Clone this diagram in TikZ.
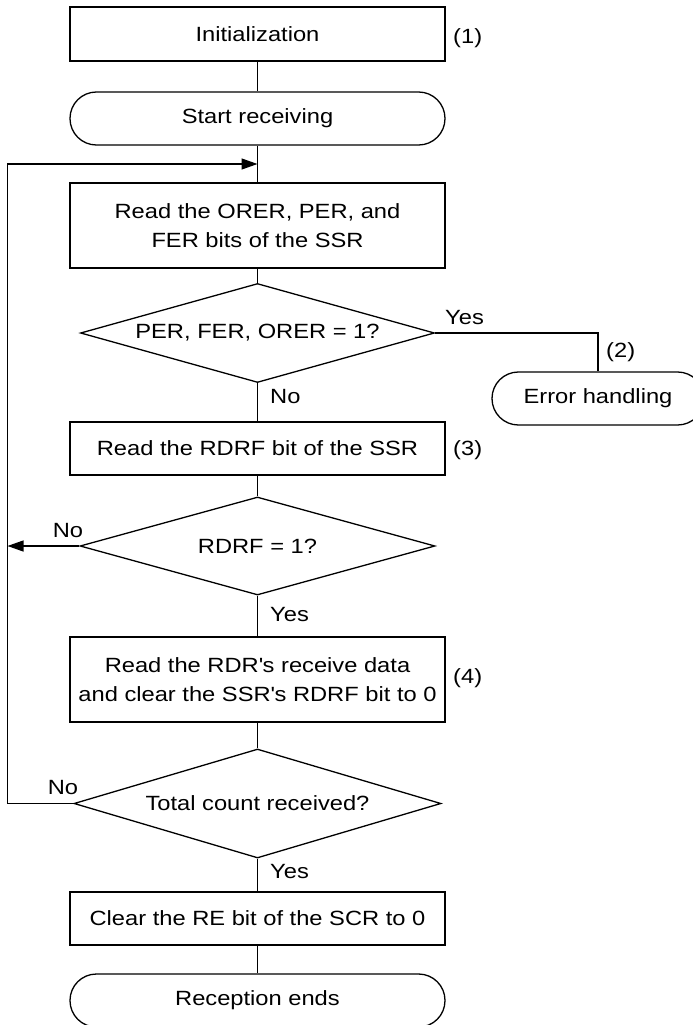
\documentclass[tikz,border=0pt]{standalone}
\usepackage{fontspec}
\setmainfont{Liberation Sans}[FakeStretch=1.15]
\usetikzlibrary{shapes.geometric,arrows.meta}
\begin{document}
\begin{tikzpicture}[x=1pt,y=-1pt,
  every node/.style={font=\fontsize{20.6}{28.5}\selectfont},
  proc/.style={draw, line width=1.3pt, rectangle, minimum width=375pt, inner sep=0pt, align=center},
  term/.style={draw, line width=1.3pt, rectangle, rounded corners=26.4pt, minimum height=53pt, inner sep=0pt},
  dec/.style={draw, line width=1.3pt, diamond, inner sep=0pt},
  lbl/.style={inner sep=0pt},
  conn/.style={line width=1.3pt},
  arr/.style={line width=1.3pt, -{Triangle[length=16pt,width=11pt]}}
]
\useasboundingbox (0,0) rectangle (693,1025);

% nodes
\node[proc, minimum height=54pt] (init) at (257.5,34) {Initialization};
\node[term, minimum width=375pt] (start) at (257.5,118.5) {Start receiving};
\node[proc, minimum height=85pt] (orer) at (257.5,225.5) {Read the ORER, PER, and\\FER bits of the SSR};
\node[dec, aspect=3.58, minimum width=354pt, minimum height=99pt] (d1) at (257.5,333) {PER, FER, ORER = 1?};
\node[term, minimum width=212pt] (err) at (598,398.5) {Error handling};
\node[proc, minimum height=53pt] (rdrf) at (257.5,448.5) {Read the RDRF bit of the SSR};
\node[dec, aspect=3.6, minimum width=355pt, minimum height=98pt] (d2) at (257.5,546) {RDRF = 1?};
\node[proc, minimum height=85pt] (rdr) at (257.5,679.5) {Read the RDR\textquotesingle s receive data\\and clear the SSR\textquotesingle s RDRF bit to 0};
\node[dec, aspect=3.37, minimum width=367pt, minimum height=109pt] (d3) at (257.5,803.5) {Total count received?};
\node[proc, minimum height=53pt] (clr) at (257.5,918.5) {Clear the RE bit of the SCR to 0};
\node[term, minimum width=375pt] (fin) at (257.5,1000.5) {Reception ends};

% step labels
\node[lbl, anchor=west] (n1) at (453,38) {(1)};
\node[lbl, anchor=west] (n2) at (606,352) {(2)};
\node[lbl, anchor=west] (n3) at (453,450) {(3)};
\node[lbl, anchor=west] (n4) at (453,678) {(4)};

% branch labels
\node[lbl, anchor=west] (y1) at (445,318) {Yes};
\node[lbl, anchor=west] (no1) at (270,397) {No};
\node[lbl] (no2) at (68,531) {No};
\node[lbl, anchor=west] (y2) at (270,615) {Yes};
\node[lbl] (no3) at (63,788) {No};
\node[lbl, anchor=west] (y3) at (270,872) {Yes};

% loop coordinates
\coordinate (la) at (7.5,164);
\coordinate (lb) at (7.5,546);
\coordinate (lc) at (7.5,803.5);
\coordinate (jn) at (257.5,164);

% connectors
\draw[conn] (init.south) -- (start.north);
\draw[conn] (start.south) -- (orer.north);
\draw[conn] (orer.south) -- (d1.north);
\draw[conn] (d1.east) -| (err.north);
\draw[conn] (d1.south) -- (rdrf.north);
\draw[conn] (rdrf.south) -- (d2.north);
\draw[arr] (d2.west) -- (lb);
\draw[conn] (d2.south) -- (rdr.north);
\draw[conn] (rdr.south) -- (d3.north);
\draw[arr] (d3.west) -- (lc) -- (la) -- (jn);
\draw[conn] (d3.south) -- (clr.north);
\draw[conn] (clr.south) -- (fin.north);
\end{tikzpicture}
\end{document}
